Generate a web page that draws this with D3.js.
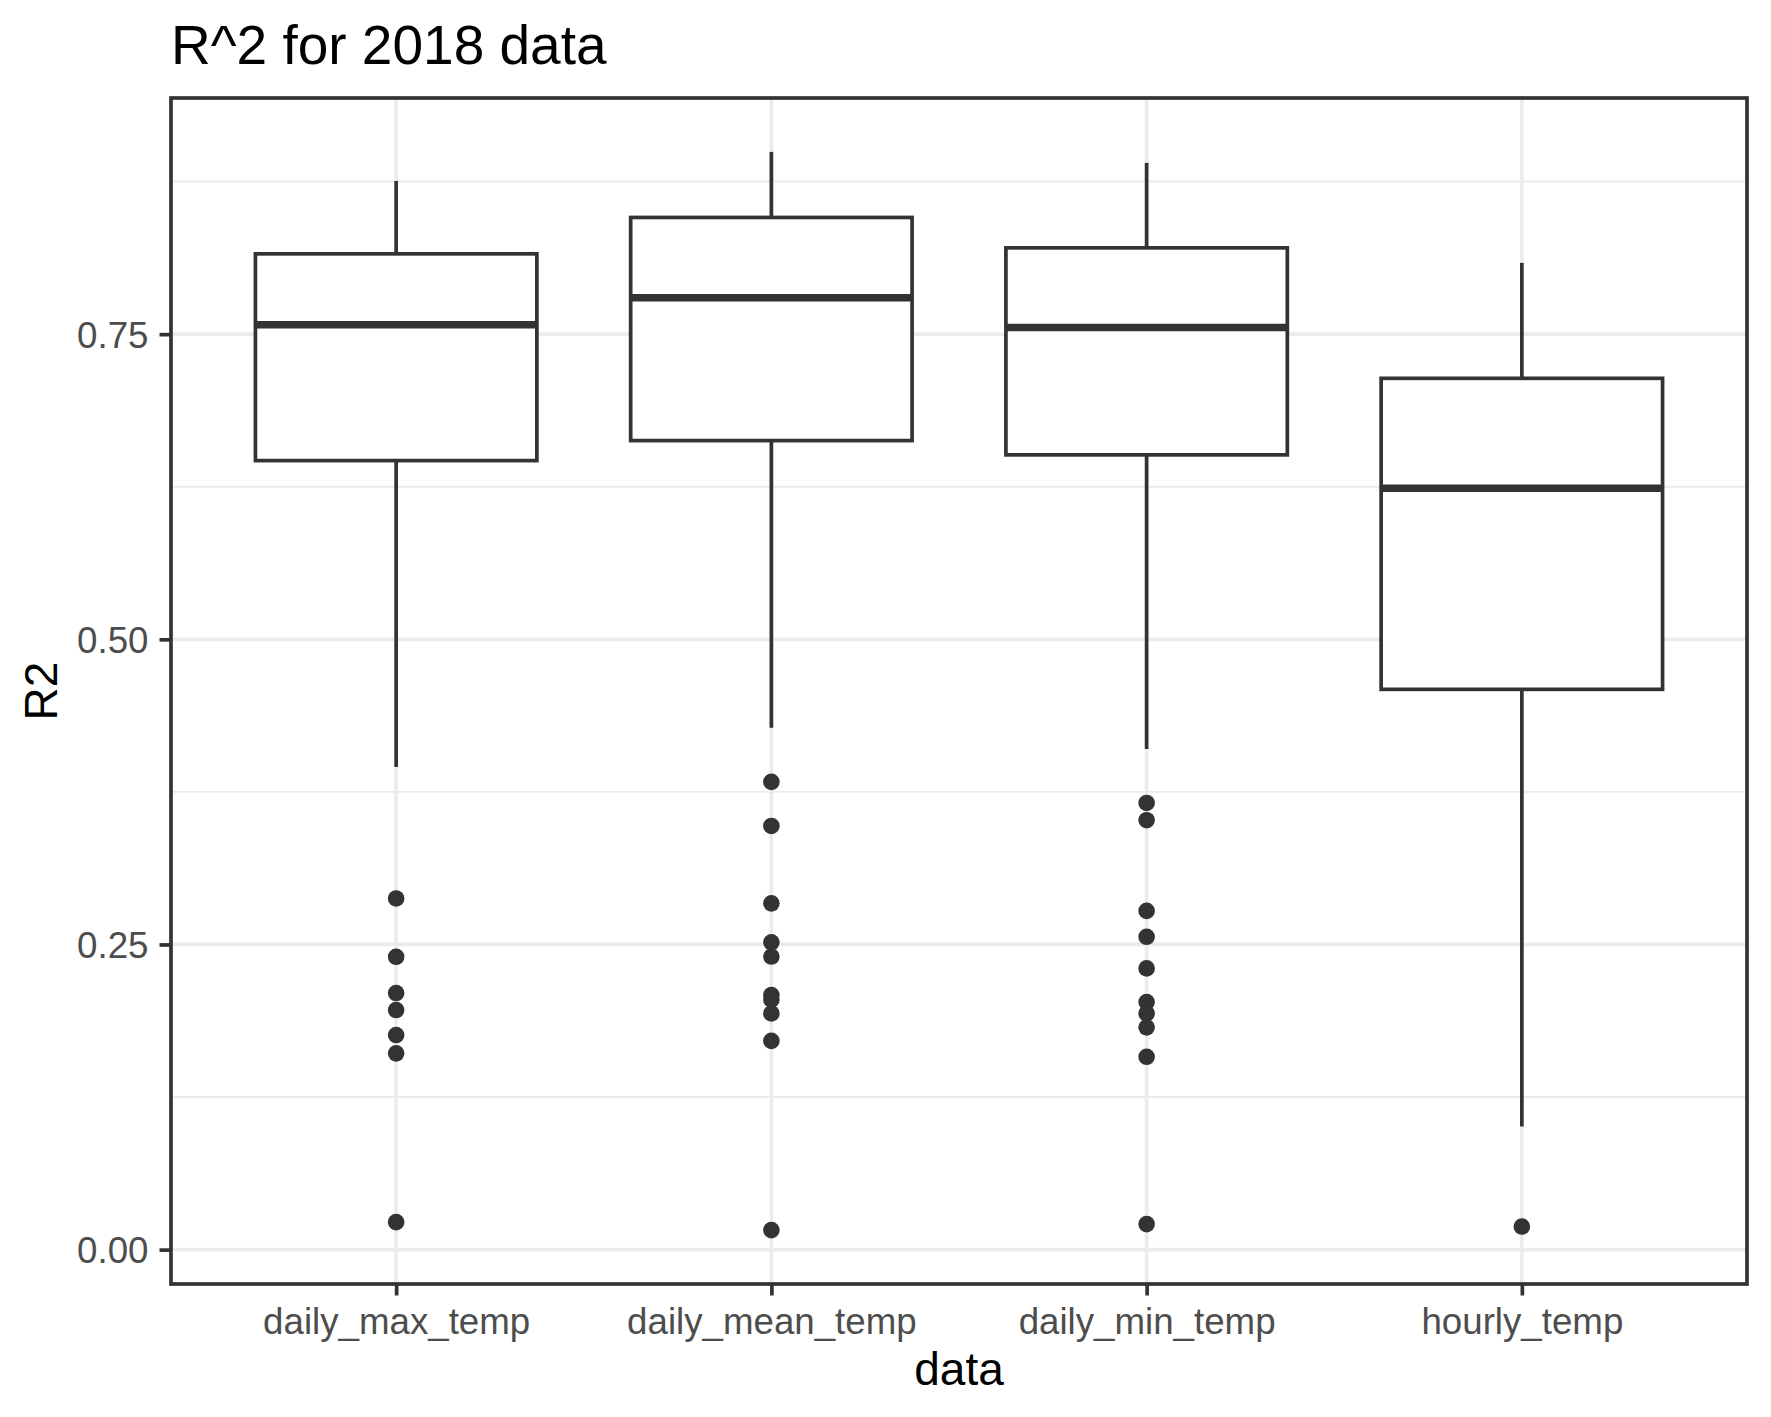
<!DOCTYPE html>
<html>
<head>
<meta charset="utf-8">
<script src="https://cdn.jsdelivr.net/npm/d3@7"></script>
<style>
  html, body { margin: 0; padding: 0; background: #fff; }
  svg { display: block; font-family: "Liberation Sans", Arial, sans-serif; }
</style>
</head>
<body>
<svg id="chart" width="1771" height="1417"></svg>
<script>
// ---- data ----
const categories   = ["daily_max_temp", "daily_mean_temp", "daily_min_temp", "hourly_temp"];
const whiskerLow   = [0.3954, 0.4275, 0.4101, 0.1008];
const q1           = [0.6464, 0.6628, 0.6511, 0.4590];
const medians      = [0.7577, 0.7798, 0.7555, 0.6237];
const q3           = [0.8158, 0.8456, 0.8207, 0.7138];
const whiskerHigh  = [0.8755, 0.8993, 0.8903, 0.8084];
const outliersMax  = [0.2877, 0.2399, 0.2102, 0.1963, 0.1758, 0.1608, 0.0225];
const outliersMean = [0.3832, 0.3471, 0.2837, 0.2518, 0.2401, 0.2085, 0.2048, 0.1935, 0.1710, 0.0160];
const outliersMin  = [0.3659, 0.3518, 0.2775, 0.2563, 0.2304, 0.2028, 0.1936, 0.1821, 0.1580, 0.0209];
const outliersHourly = [0.0189];
const outliers = [outliersMax, outliersMean, outliersMin, outliersHourly];
const yTicks = [0, 0.25, 0.5, 0.75];
const yMinor = [0.125, 0.375, 0.625, 0.875];
const titleText = "R^2 for 2018 data";
const xTitle = "data";
const yTitle = "R2";

// ---- layout ----
const svg = d3.select("#chart");
const panel = {left: 171, right: 1747, top: 98, bottom: 1284};
const ink = "#333333";
const lw = 3.7;

const boxes = categories.map((c, i) => ({
  cat: c, lo: whiskerLow[i], q1: q1[i], med: medians[i], q3: q3[i], hi: whiskerHigh[i], out: outliers[i]
}));

const allVals = boxes.flatMap(b => [b.lo, b.hi, ...b.out]);
const vmin = d3.min(allVals), vmax = d3.max(allVals);
const pad = (vmax - vmin) * 0.05;

const x = d3.scalePoint().domain(categories).range([panel.left, panel.right]).padding(0.6);
const y = d3.scaleLinear().domain([vmin - pad, vmax + pad]).range([panel.bottom, panel.top]);
const boxW = x.step() * 0.75;

// background
svg.append("rect").attr("x", panel.left).attr("y", panel.top)
  .attr("width", panel.right - panel.left).attr("height", panel.bottom - panel.top)
  .attr("fill", "#fff");

// grid
const grid = svg.append("g");
grid.selectAll("line.minor").data(yMinor).join("line")
  .attr("x1", panel.left).attr("x2", panel.right)
  .attr("y1", d => y(d)).attr("y2", d => y(d))
  .attr("stroke", "#EBEBEB").attr("stroke-width", 1.9);
grid.selectAll("line.majy").data(yTicks).join("line")
  .attr("x1", panel.left).attr("x2", panel.right)
  .attr("y1", d => y(d)).attr("y2", d => y(d))
  .attr("stroke", "#EBEBEB").attr("stroke-width", lw);
grid.selectAll("line.majx").data(categories).join("line")
  .attr("x1", d => x(d)).attr("x2", d => x(d))
  .attr("y1", panel.top).attr("y2", panel.bottom)
  .attr("stroke", "#EBEBEB").attr("stroke-width", lw);

// boxplots
const g = svg.append("g");
const bx = g.selectAll("g.box").data(boxes).join("g");
bx.append("line")
  .attr("x1", d => x(d.cat)).attr("x2", d => x(d.cat))
  .attr("y1", d => y(d.hi)).attr("y2", d => y(d.q3))
  .attr("stroke", ink).attr("stroke-width", lw);
bx.append("line")
  .attr("x1", d => x(d.cat)).attr("x2", d => x(d.cat))
  .attr("y1", d => y(d.q1)).attr("y2", d => y(d.lo))
  .attr("stroke", ink).attr("stroke-width", lw);
bx.append("rect")
  .attr("x", d => x(d.cat) - boxW / 2).attr("width", boxW)
  .attr("y", d => y(d.q3)).attr("height", d => y(d.q1) - y(d.q3))
  .attr("fill", "#fff").attr("stroke", ink).attr("stroke-width", lw);
bx.append("line")
  .attr("x1", d => x(d.cat) - boxW / 2).attr("x2", d => x(d.cat) + boxW / 2)
  .attr("y1", d => y(d.med)).attr("y2", d => y(d.med))
  .attr("stroke", ink).attr("stroke-width", 7.6);
bx.selectAll("circle").data(d => d.out.map(v => ({cat: d.cat, v}))).join("circle")
  .attr("cx", d => x(d.cat)).attr("cy", d => y(d.v)).attr("r", 8.3)
  .attr("fill", ink);

// panel border
svg.append("rect").attr("x", panel.left).attr("y", panel.top)
  .attr("width", panel.right - panel.left).attr("height", panel.bottom - panel.top)
  .attr("fill", "none").attr("stroke", ink).attr("stroke-width", lw);

// axes
const yAxis = svg.append("g").attr("transform", `translate(${panel.left},0)`)
  .call(d3.axisLeft(y).tickValues(yTicks).tickFormat(d3.format(".2f")).tickSize(11.5).tickPadding(11));
yAxis.select(".domain").remove();
yAxis.selectAll(".tick line").attr("stroke", ink).attr("stroke-width", lw);
yAxis.selectAll(".tick text").attr("fill", "#4D4D4D").attr("font-size", 36.7)
  .attr("font-family", "'Liberation Sans', Arial, sans-serif").attr("dy", "0.35em");

const xAxis = svg.append("g").attr("transform", `translate(0,${panel.bottom})`)
  .call(d3.axisBottom(x).tickSize(11.5).tickPadding(12));
xAxis.select(".domain").remove();
xAxis.selectAll(".tick line").attr("stroke", ink).attr("stroke-width", lw);
xAxis.selectAll(".tick text").attr("fill", "#4D4D4D").attr("font-size", 36.7)
  .attr("font-family", "'Liberation Sans', Arial, sans-serif");

// titles
svg.append("text").attr("x", panel.left).attr("y", 64)
  .attr("font-size", 55).attr("fill", "#000").text(titleText);
svg.append("text").attr("x", (panel.left + panel.right) / 2).attr("y", 1385)
  .attr("text-anchor", "middle").attr("font-size", 46).attr("fill", "#000").text(xTitle);
svg.append("text")
  .attr("transform", `translate(57,${(panel.top + panel.bottom) / 2}) rotate(-90)`)
  .attr("text-anchor", "middle").attr("font-size", 46).attr("fill", "#000").text(yTitle);
</script>
</body>
</html>
